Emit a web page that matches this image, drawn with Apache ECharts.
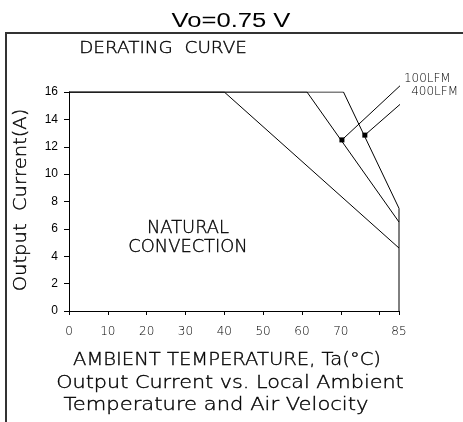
<!DOCTYPE html>
<html>
<head>
<meta charset="utf-8">
<script src="https://cdn.jsdelivr.net/npm/echarts@6/dist/echarts.min.js"></script>
<style>
html, body { margin: 0; padding: 0; background: #fff; }
#chart { width: 463px; height: 422px; }
</style>
</head>
<body>
<div id="chart"></div>
<script>
// derating curves, Vo=0.75 V  (x: ambient temp C, y: output current A)
var naturalCurve = [[0, 16], [40, 16], [85, 4.6]];
var lfm100Curve = [[0, 16], [61.3, 16], [85, 6.5]];
var lfm400Curve = [[0, 16], [70.7, 16], [85, 7.5]];
var rightEdge = [[85, 0], [85, 7.5]];
// leader lines: dot on the curve -> label
var lfm100Leader = [[70.3, 12.5], [86.0, 16.65]];
var lfm400Leader = [[76.2, 12.85], [87.1, 15.55]];
var leaderNames = ['100LFM', '400LFM'];
var xHiddenLabels = [80];

var cad = 'DejaVu Sans';
var myChart = echarts.init(document.getElementById('chart'));

function curve(data) {
    return {
        type: 'line',
        data: data,
        symbol: 'none',
        silent: true,
        lineStyle: { color: '#000', width: 1 },
        animation: false
    };
}

function leader(data, name, offset) {
    return {
        type: 'line',
        data: data,
        clip: false,
        silent: true,
        symbol: 'rect',
        symbolSize: function (v, p) { return p.dataIndex === 0 ? 5 : 0; },
        showAllSymbol: true,
        itemStyle: { color: '#000' },
        lineStyle: { color: '#000', width: 1 },
        label: {
            show: true,
            position: 'right',
            distance: 1,
            offset: offset,
            color: '#000',
            fontFamily: cad,
            fontWeight: 200,
            fontSize: 12,
            formatter: function (p) { return p.dataIndex === 1 ? name : ''; }
        },
        animation: false
    };
}

// text placed by its centre, stretched sideways like the plotter font
function txt(str, x, y, size, sx, rot) {
    return {
        type: 'text',
        x: x, y: y,
        scaleX: sx,
        rotation: rot || 0,
        silent: true,
        style: {
            text: str,
            font: '200 ' + size + 'px ' + cad,
            fill: '#000',
            stroke: '#000',
            lineWidth: 0.35,
            align: 'center',
            verticalAlign: 'middle'
        }
    };
}

myChart.setOption({
    backgroundColor: '#fff',
    graphic: [
        {
            type: 'polyline',
            shape: { points: [[6, 422], [6, 33], [463, 33]] },
            style: { stroke: '#333', lineWidth: 2, fill: null },
            silent: true
        },
        {
            type: 'text', x: 231, y: 21, scaleX: 1.28, silent: true,
            style: { text: 'Vo=0.75 V', font: '20px Liberation Sans', fill: '#000', align: 'center', verticalAlign: 'middle' }
        },
        txt('DERATING  CURVE', 163, 49, 16, 1.15),
        txt('NATURAL', 188, 229, 17, 1.05),
        txt('CONVECTION', 188, 248, 17, 1.05),
        txt('AMBIENT TEMPERATURE, Ta(°C)', 227, 361, 17, 1.15),
        txt('Output Current vs. Local Ambient', 230, 384, 17, 1.22),
        txt('Temperature and Air Velocity', 216, 406, 17, 1.24),
        txt('Output  Current(A)', 22, 200, 17, 1.15, Math.PI / 2)
    ],
    grid: { left: 69, right: 64, top: 92, bottom: 111 },
    xAxis: {
        type: 'value',
        min: 0,
        max: 85,
        interval: 10,
        axisLine: { lineStyle: { color: '#000', width: 1 } },
        axisTick: { show: true, length: 4, lineStyle: { color: '#000' } },
        axisLabel: {
            margin: 15,
            color: '#000',
            fontFamily: cad,
            fontWeight: 200,
            fontSize: 12,
            showMaxLabel: true,
            formatter: function (v) { return xHiddenLabels.indexOf(v) >= 0 ? '' : v; }
        },
        splitLine: { show: false }
    },
    yAxis: {
        type: 'value',
        min: 0,
        max: 16,
        interval: 2,
        axisLine: { show: true, lineStyle: { color: '#000', width: 1 } },
        axisTick: { show: true, length: 5, lineStyle: { color: '#000' } },
        axisLabel: { margin: 11, color: '#000', fontFamily: 'Liberation Sans', fontSize: 12 },
        splitLine: { show: false }
    },
    series: [
        curve(naturalCurve),
        curve(lfm100Curve),
        curve(lfm400Curve),
        curve(rightEdge),
        leader(lfm100Leader, leaderNames[0], [0, -4]),
        leader(lfm400Leader, leaderNames[1], [3, -6])
    ]
});
</script>
</body>
</html>
